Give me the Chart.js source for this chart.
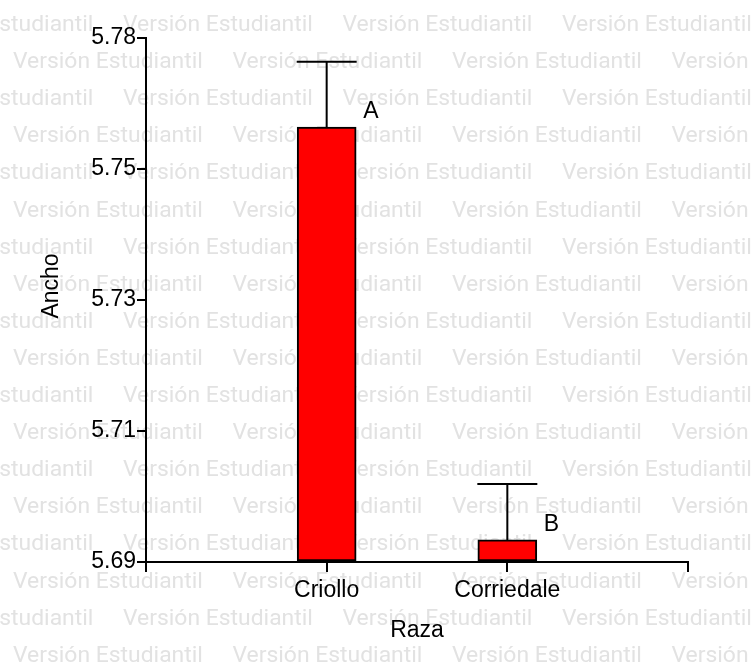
<!DOCTYPE html>
<html>
<head>
<meta charset="utf-8">
<script src="https://cdn.jsdelivr.net/npm/chart.js@4.4.0/dist/chart.umd.min.js"></script>
<style>
html, body { margin: 0; padding: 0; background: #fff; }
#wrap { width: 752px; height: 671px; }
</style>
</head>
<body>
<div id="wrap"><canvas id="chart" width="752" height="671"></canvas></div>
<script>
// Data
const categories = ['Criollo', 'Corriedale'];
const means = [5.7647, 5.6938];
const upperErr = [5.7759, 5.7034]; // top of the error bar
const letters = ['A', 'B'];
const yTickValues = [5.69, 5.7125, 5.735, 5.7575, 5.78];
const yTickLabels = ['5.69', '5.71', '5.73', '5.75', '5.78'];
const yTitle = 'Ancho';
const xTitle = 'Raza';
const watermark = 'Versión Estudiantil';

const FONT = '"Liberation Sans", Arial, sans-serif';

// x axis runs 0..3, the two breeds sit on 1 and 2
const xLabels = ['', ...categories, ''];
const barData = [null, ...means, null];

// Grey "Versión Estudiantil" background
const watermarkPlugin = {
    id: 'watermark',
    beforeDraw(chart) {
        const ctx = chart.ctx;
        ctx.save();
        ctx.fillStyle = '#fff';
        ctx.fillRect(0, 0, chart.width, chart.height);
        ctx.font = '22px Roboto';
        const size = 22 * 190 / ctx.measureText(watermark).width;
        ctx.font = size + 'px Roboto';
        ctx.fillStyle = '#e2e2e2';
        ctx.textBaseline = 'alphabetic';
        for (let k = 0; k < 18; k++) {
            const y = 31 + 37.1 * k;
            let x = k % 2 === 0 ? -96.5 : 13;
            for (; x < chart.width; x += 219.5) ctx.fillText(watermark, x, y);
        }
        ctx.restore();
    }
};

// Error bars (upper only), letters and the y title
const errorBarPlugin = {
    id: 'errorBars',
    afterDatasetsDraw(chart) {
        const ctx = chart.ctx;
        const y = chart.scales.y;
        const meta = chart.getDatasetMeta(0);
        ctx.save();
        ctx.strokeStyle = '#000';
        ctx.fillStyle = '#000';
        ctx.lineWidth = 2;
        ctx.font = '23px ' + FONT;
        categories.forEach((c, i) => {
            const bar = meta.data[i + 1];
            const yMean = y.getPixelForValue(means[i]);
            const yTop = y.getPixelForValue(upperErr[i]);
            ctx.beginPath();
            ctx.moveTo(bar.x, yMean);
            ctx.lineTo(bar.x, yTop);
            ctx.moveTo(bar.x - 30, yTop);
            ctx.lineTo(bar.x + 30, yTop);
            ctx.stroke();
            ctx.textAlign = 'left';
            ctx.textBaseline = 'alphabetic';
            ctx.fillText(letters[i], bar.x + bar.width / 2 + 7, yMean - 9);
        });
        // y title sits a bit above the middle of the axis
        ctx.translate(52, 286);
        ctx.rotate(-Math.PI / 2);
        ctx.textAlign = 'center';
        ctx.textBaseline = 'middle';
        ctx.fillText(yTitle, 0, 0);
        ctx.restore();
    }
};

new Chart(document.getElementById('chart'), {
    type: 'bar',
    data: {
        labels: xLabels,
        datasets: [{
            data: barData,
            base: 5.69,
            backgroundColor: '#ff0000',
            borderColor: '#000',
            borderWidth: 2,
            borderSkipped: false,
            barThickness: 59
        }]
    },
    options: {
        responsive: false,
        animation: false,
        devicePixelRatio: 1,
        layout: { padding: { left: 0, top: 38, right: 64, bottom: 0 } },
        plugins: { legend: { display: false }, tooltip: { enabled: false } },
        scales: {
            x: {
                type: 'category',
                offset: false,
                grid: { display: true, offset: false, drawOnChartArea: false, drawTicks: true, tickLength: 10, color: '#000', lineWidth: 2 },
                border: { display: true, color: '#000', width: 2 },
                ticks: { color: '#000', font: { family: FONT, size: 23 }, padding: 5, maxRotation: 0, autoSkip: false },
                title: { display: true, text: xTitle, color: '#000', font: { family: FONT, size: 23 }, padding: { top: 0, bottom: 27 } },
                afterFit(scale) { scale.height = 109; }
            },
            y: {
                min: 5.69,
                max: 5.78,
                afterBuildTicks(scale) { scale.ticks = yTickValues.map(v => ({ value: v })); },
                grid: { display: true, drawOnChartArea: false, drawTicks: true, tickLength: 9, color: '#000', lineWidth: 2 },
                border: { display: true, color: '#000', width: 2 },
                ticks: { color: '#000', font: { family: FONT, size: 23 }, padding: 1, callback: (v, i) => yTickLabels[i] },
                afterFit(scale) { scale.width = 146; }
            }
        }
    },
    plugins: [watermarkPlugin, errorBarPlugin]
});
</script>
</body>
</html>
